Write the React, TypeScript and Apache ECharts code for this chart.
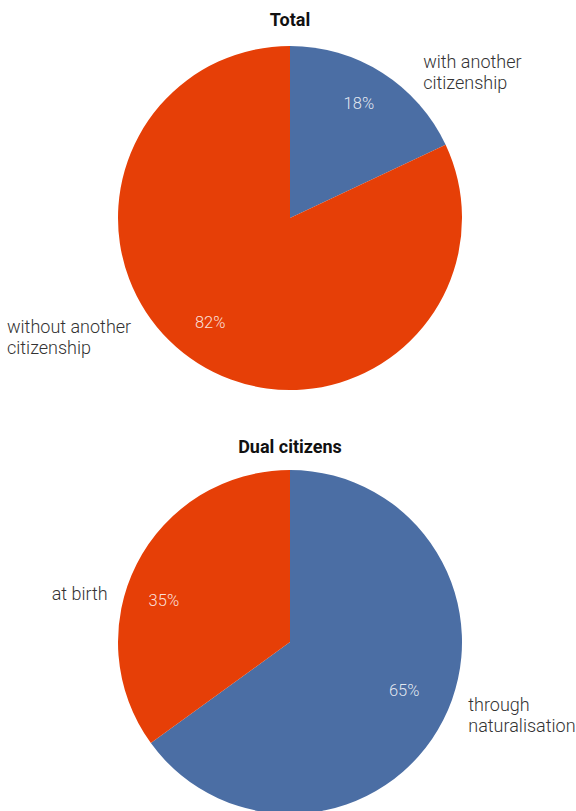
import React, { useEffect, useRef } from "react";
import * as echarts from "echarts";

const totalTitle = "Total";
const totalCategories = ["with another\ncitizenship", "without another\ncitizenship"];
const totalValues = [18, 82];

const dualTitle = "Dual citizens";
const dualCategories = ["through\nnaturalisation", "at birth"];
const dualValues = [65, 35];

const BLUE = "#4b6ea4";
const ORANGE = "#e63f07";
const FONT = "Roboto, 'Noto Sans', sans-serif";

// per-slice outer label tweaks [horizontal gap, vertical shift, edge-aligned]
const totalLabelTweaks = [
  [36, -1, 0],
  [63, -26, 1],
];
const dualLabelTweaks = [
  [20, -5, 0],
  [24, 30, 0],
];
// per-slice inner percentage label shifts [dx, dy]
const totalPctShift = [
  [-4, 0],
  [-7, -10],
];
const dualPctShift = [
  [-7, -13],
  [-5, 20],
];

function buildSeries(
  id: string,
  cats: string[],
  vals: number[],
  colors: string[],
  center: [number, number],
  tweaks: number[][],
  pctShift: number[][]
) {
  const main = {
    type: "pie",
    id: id + "-main",
    center,
    radius: [0, 172],
    startAngle: 90,
    clockwise: true,
    silent: true,
    avoidLabelOverlap: false,
    data: vals.map((v, i) => ({
      name: cats[i],
      value: v,
      itemStyle: { color: colors[i], borderWidth: 0 },
      label: tweaks[i][2] ? { alignTo: "edge", edgeDistance: 7 } : {},
      labelLine: { show: false, length: 0, length2: tweaks[i][0] },
    })),
    label: {
      show: true,
      position: "outside",
      formatter: "{b}",
      fontFamily: FONT,
      fontWeight: 300,
      fontSize: 18,
      lineHeight: 21,
      color: "#333333",
    },
    labelLayout: (p: any) => ({ dy: tweaks[p.dataIndex][1] }),
  };
  const inner = {
    type: "pie",
    id: id + "-pct",
    center,
    radius: [94, 172],
    startAngle: 90,
    clockwise: true,
    silent: true,
    data: vals.map((v, i) => ({
      name: cats[i],
      value: v,
      itemStyle: { color: "rgba(0,0,0,0)", borderWidth: 0 },
    })),
    label: {
      show: true,
      position: "inside",
      formatter: (p: any) => p.value + "%",
      fontFamily: FONT,
      fontWeight: 300,
      fontSize: 16.5,
      color: "rgba(255,255,255,0.85)",
    },
    labelLayout: (p: any) => ({ dx: pctShift[p.dataIndex][0], dy: pctShift[p.dataIndex][1] }),
    labelLine: { show: false },
  };
  return [main, inner];
}

export default function App() {
  const ref = useRef<HTMLDivElement>(null);
  useEffect(() => {
    if (!ref.current) return;
    const chart = echarts.init(ref.current, undefined, { renderer: "svg" });
    chart.setOption({
      animation: false,
      backgroundColor: "#ffffff",
      title: [
        {
          text: totalTitle,
          left: 285,
          textAlign: "center",
          top: 5,
          textStyle: { fontFamily: FONT, fontWeight: 700, fontSize: 18, color: "#111111" },
        },
        {
          text: dualTitle,
          left: 285,
          textAlign: "center",
          top: 432,
          textStyle: { fontFamily: FONT, fontWeight: 700, fontSize: 18, color: "#111111" },
        },
      ],
      series: [
        ...buildSeries("total", totalCategories, totalValues, [BLUE, ORANGE], [290, 218], totalLabelTweaks, totalPctShift),
        ...buildSeries("dual", dualCategories, dualValues, [BLUE, ORANGE], [290, 642], dualLabelTweaks, dualPctShift),
      ],
    });
    return () => chart.dispose();
  }, []);
  return (
    <div
      ref={ref}
      style={{ position: "fixed", left: 0, top: 0, width: 576, height: 811, background: "#fff" }}
    />
  );
}
